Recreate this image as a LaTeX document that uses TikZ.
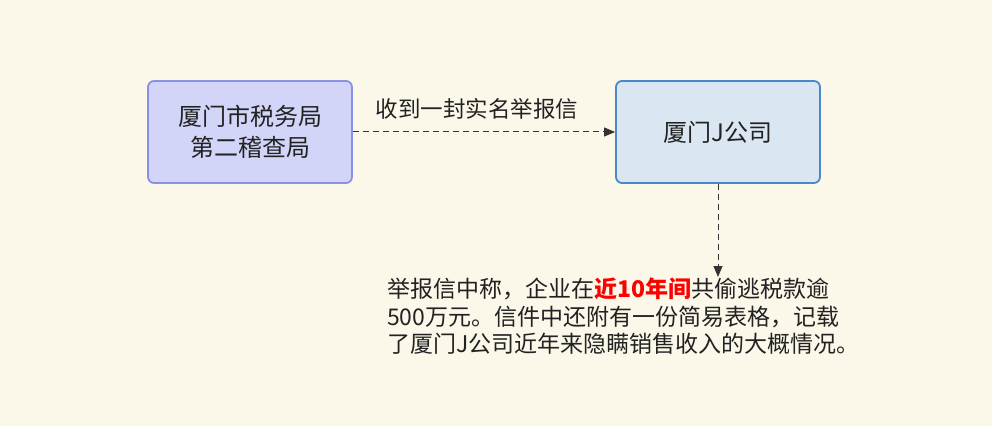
\documentclass[tikz,border=0pt]{standalone}
\usepackage{fontspec}
\newfontfamily\cjk{Noto Sans CJK SC}
\usetikzlibrary{arrows.meta}
\definecolor{bg}{HTML}{FCF8E9}
\definecolor{boxAfill}{HTML}{D3D5F8}
\definecolor{boxAdraw}{HTML}{8A90E6}
\definecolor{boxBfill}{HTML}{DAE6F1}
\definecolor{boxBdraw}{HTML}{4A88CC}
\definecolor{txt}{HTML}{222222}
\definecolor{arr}{HTML}{333333}
\tikzset{
  box/.style={rounded corners=6pt, line width=1.8pt, minimum width=204pt, minimum height=102pt, align=center, font=\cjk\fontsize{24}{31}\selectfont, text=txt, inner sep=0pt},
  conn/.style={draw=arr, line width=1pt, dash pattern=on 6pt off 4pt, -{Triangle[length=11pt,width=9pt]}},
}
\begin{document}
\begin{tikzpicture}[x=1pt,y=1pt]
\fill[bg] (0,0) rectangle (992,426);
\useasboundingbox (0,0) rectangle (992,426);
\node[box, fill=boxAfill, draw=boxAdraw] (a) at (250,294) {厦门市税务局\\第二稽查局};
\node[box, fill=boxBfill, draw=boxBdraw] (b) at (718,294) {厦门J公司};
\draw[conn] (a.east) -- node[above=9pt, xshift=-7pt, font=\cjk\fontsize{22.5}{25}\selectfont, text=txt] (lab) {收到一封实名举报信} (b.west);
\coordinate (c) at (718,149);
\draw[conn] (b.south) -- (c);
\node[anchor=north west, inner sep=0pt, align=left, text=txt, font=\cjk\fontsize{23}{27.5}\selectfont] (d) at (387,148)
{举报信中称，企业在{\color{red}\bfseries 近10年间}共偷逃税款逾\\500万元。信件中还附有一份简易表格，记载\\了厦门J公司近年来隐瞒销售收入的大概情况。};
\end{tikzpicture}
\end{document}
